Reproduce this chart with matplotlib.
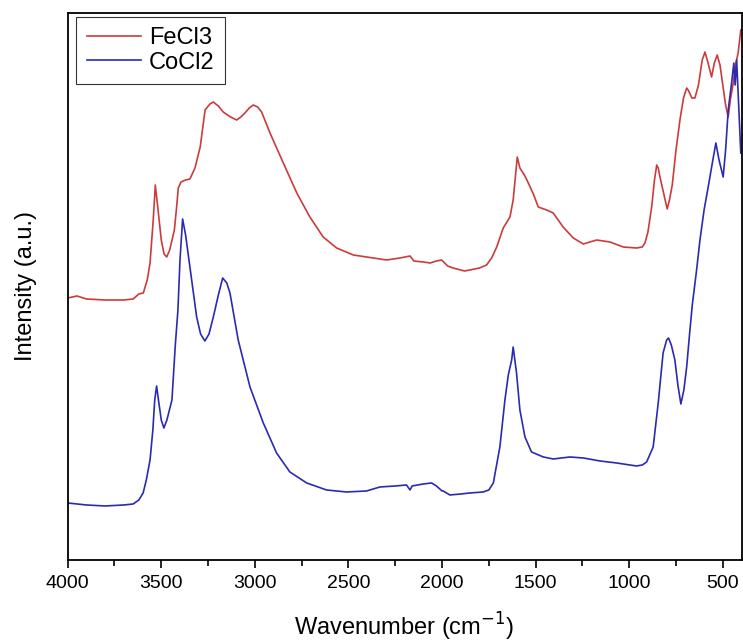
import matplotlib
matplotlib.use("Agg")
import matplotlib.pyplot as plt
from matplotlib.ticker import MultipleLocator

plt.rcParams["font.family"] = ["Liberation Sans", "DejaVu Sans"]

# FT-IR spectra (arbitrary intensity units, curves offset vertically)
fecl3_wn = [4000, 3950, 3900, 3800, 3700, 3650, 3620, 3596, 3575, 3560, 3543,
            3532, 3520, 3500, 3485, 3471, 3455, 3430, 3418, 3409, 3395, 3370,
            3347, 3320, 3292, 3266, 3240, 3222, 3195, 3169, 3130, 3097, 3075,
            3053, 3030, 3008, 2985, 2964, 2919, 2848, 2776, 2706, 2635, 2563,
            2474, 2367, 2296, 2225, 2171, 2150, 2100, 2064, 2030, 2002, 1970,
            1941, 1880, 1851, 1800, 1762, 1735, 1708, 1673, 1637, 1620, 1598,
            1584, 1560, 1539, 1510, 1486, 1441, 1406, 1353, 1299, 1245, 1210,
            1174, 1103, 1032, 961, 930, 916, 900, 880, 865, 853, 845, 838,
            820, 797, 785, 770, 750, 729, 710, 693, 685, 665, 649, 630, 610,
            595, 580, 560, 545, 530, 515, 500, 485, 471, 460, 444, 430, 418,
            410, 404]
fecl3_int = [262, 264, 261, 260, 260, 261, 266, 267, 280, 297, 340,
             375, 355, 320, 306, 303, 310, 330, 353, 372, 378, 380,
             381, 392, 413, 450, 456, 458, 454, 448, 443, 440, 443,
             447, 452, 455, 453, 448, 427, 397, 367, 343, 323, 312,
             305, 302, 300, 302, 304, 299, 298, 297, 299, 300, 294,
             292, 289, 290, 292, 295, 302, 313, 332, 343, 360, 403,
             392, 385, 377, 365, 353, 350, 347, 333, 322, 316, 318,
             320, 318, 313, 312, 313, 317, 328, 353, 380, 395, 392, 385,
             370, 351, 360, 375, 410, 440, 462, 472, 470, 462, 462, 475, 500,
             508, 498, 483, 497, 505, 495, 475, 455, 443, 460, 477, 497, 507,
             520, 530]

cocl2_wn = [4000, 3900, 3800, 3700, 3650, 3620, 3597, 3580, 3560, 3545, 3535,
            3525, 3515, 3500, 3486, 3470, 3443, 3425, 3411, 3400, 3386, 3370,
            3347, 3311, 3290, 3267, 3245, 3222, 3195, 3172, 3150, 3133, 3089,
            3026, 2955, 2884, 2813, 2723, 2617, 2510, 2403, 2332, 2250, 2190,
            2171, 2160, 2100, 2056, 2030, 2000, 1994, 1958, 1900, 1851, 1780,
            1750, 1726, 1691, 1664, 1646, 1628, 1620, 1602, 1584, 1557, 1522,
            1459, 1406, 1317, 1245, 1156, 1067, 961, 930, 907, 872, 845, 819,
            800, 790, 775, 756, 740, 724, 708, 693, 678, 663, 640, 622, 600,
            578, 555, 537, 520, 498, 485, 471, 453, 441, 434, 426, 414, 404]
cocl2_int = [57, 55, 54, 55, 56, 60, 67, 80, 100, 130, 160,
             174, 160, 140, 132, 140, 160, 215, 250, 300, 341, 325,
             293, 243, 226, 219, 226, 243, 265, 282, 277, 267, 220,
             173, 137, 107, 88, 77, 70, 68, 69, 73, 74, 75,
             70, 74, 76, 77, 74, 69, 69, 65, 66, 67, 68,
             70, 77, 113, 160, 185, 200, 213, 187, 150, 123, 108,
             103, 101, 103, 102, 99, 97, 94, 95, 98, 113, 157, 207,
             220, 222, 215, 200, 175, 156, 170, 193, 225, 255, 290, 320, 350,
             373, 398, 417, 400, 383, 410, 450, 477, 497, 475, 500, 450, 407]

fig = plt.figure(figsize=(7.43, 6.41), dpi=100)
ax = fig.add_axes([0.0911, 0.1264, 0.9069, 0.8533])

ax.plot(fecl3_wn, fecl3_int, color="#cc3b3b", lw=1.2, label="FeCl3")
ax.plot(cocl2_wn, cocl2_int, color="#2a2ab4", lw=1.2, label="CoCl2")

ax.set_xlim(4000, 400)
ax.set_ylim(0, 547)
ax.xaxis.set_major_locator(MultipleLocator(500))
ax.xaxis.set_minor_locator(MultipleLocator(250))
ax.tick_params(axis="x", which="major", direction="out", length=6, width=1.2,
               labelsize=14, top=False, pad=5)
ax.tick_params(axis="x", which="minor", direction="out", length=4, width=1.2,
               top=False)
ax.set_yticks([])
for s in ax.spines.values():
    s.set_linewidth(1.3)

ax.set_xlabel("Wavenumber (cm$^{-1}$)", fontsize=17, labelpad=13)
ax.set_ylabel("Intensity (a.u.)", fontsize=17, labelpad=22)

leg = ax.legend(loc="upper left", bbox_to_anchor=(0.0123, 0.9932),
                borderaxespad=0, fontsize=17, frameon=True, fancybox=False,
                edgecolor="black", handlelength=2.3, handletextpad=0.35,
                labelspacing=0.1, borderpad=0.45)
leg.get_frame().set_linewidth(0.8)

fig.savefig("out.png", dpi=100)
